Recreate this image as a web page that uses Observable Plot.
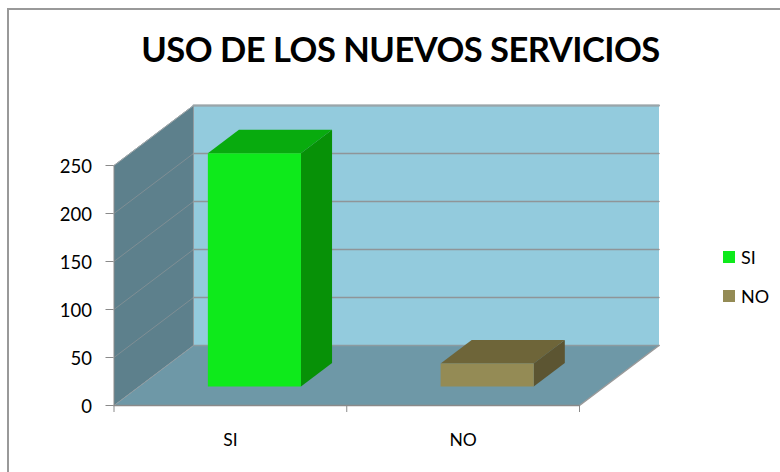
<!DOCTYPE html>
<html>
<head>
<meta charset="utf-8">
<script src="https://cdn.jsdelivr.net/npm/d3@7"></script>
<script src="https://cdn.jsdelivr.net/npm/@observablehq/plot@0.6"></script>
<style>
  html, body { margin: 0; padding: 0; background: #fff; width: 780px; height: 472px; overflow: hidden; }
  #wrap { position: relative; width: 780px; height: 472px; font-family: Lato, sans-serif; overflow: hidden; }
  #frame { position: absolute; left: 7px; top: 8px; width: 800px; height: 500px; border: 2px solid #999; box-sizing: border-box; }
  #title { position: absolute; left: 0; top: 28px; width: 801px; margin: 0; text-align: center; font-size: 34.5px; line-height: 42px; font-weight: 700; color: #000; white-space: nowrap; letter-spacing: -0.5px; }
  #chart { position: absolute; left: 0; top: 0; }
  #chart svg { display: block; background: transparent; }
  .lg { position: absolute; left: 723px; display: flex; align-items: center; font-size: 18px; line-height: 20px; color: #000; }
  .lg i { display: block; width: 12px; height: 12px; margin-right: 6px; }
</style>
</head>
<body>
<div id="wrap">
  <div id="frame"></div>
  <div id="chart"></div>
  <h1 id="title">USO DE LOS NUEVOS SERVICIOS</h1>
</div>
<script>
const categories = ["SI", "NO"];
const values = [243, 24];
const yTicks = [0, 50, 100, 150, 200, 250];
const xEdges = [0, 1, 2];
const frontColors = ["#0eea1b", "#948b55"];
const topColors = ["#08ab0e", "#6e6539"];
const sideColors = ["#079107", "#5c5532"];

const yMax = 250;
const depthX = 79.5 / 232.75;   // x units per unit of depth
const depthY = 60 / 0.96;       // value units per unit of depth
const p = (x, y, z) => ({x: x + z * depthX, y: y + z * depthY});
const face = (pts, fill) => Plot.line(pts, {x: "x", y: "y", fill, stroke: "none"});
const edge = (pts, stroke, strokeWidth = 1) => Plot.line(pts, {x: "x", y: "y", stroke, strokeWidth});

const marks = [
  // back wall, left wall, floor
  face([p(0,0,1), p(2,0,1), p(2,yMax,1), p(0,yMax,1)], "#93cbdd"),
  face([p(0,0,0), p(0,0,1), p(0,yMax,1), p(0,yMax,0)], "#5d808c"),
  face([p(0,0,0), p(2,0,0), p(2,0,1), p(0,0,1)], "#6e98a7"),
  // gridlines
  ...yTicks.slice(1).map(v => edge([p(0,v,1), p(2,v,1)], "#8f9598", 1.5)),
  ...yTicks.slice(1).map(v => edge([p(0,v,0), p(0,v,1)], "#7f8e94", 1)),
  edge([p(0,yMax,1), p(2,yMax,1)], "#9aa5aa", 2),
  edge([p(0,0,1), p(2,0,1)], "#8b9aa0", 1.5),
  edge([p(0,0,1), p(0,yMax,1)], "#8f9a9f", 1),
  edge([p(0,0,0), p(0,0,1)], "#8f9a9f", 1),
  edge([p(0,yMax,0), p(0,yMax,1)], "#a0a8ab", 1),
  edge([p(2,0,0), p(2,0,1)], "#9a9a9a", 1.5),
  // bars
  ...categories.flatMap((c, i) => {
    const x0 = i + 0.295, x1 = i + 0.695, z0 = 0.317, z1 = 0.708, v = values[i];
    return [
      face([p(x0,v,z0), p(x1,v,z0), p(x1,v,z1), p(x0,v,z1)], topColors[i]),
      face([p(x1,0,z0), p(x1,0,z1), p(x1,v,z1), p(x1,v,z0)], sideColors[i]),
      face([p(x0,0,z0), p(x1,0,z0), p(x1,v,z0), p(x0,v,z0)], frontColors[i])
    ];
  }),
  // axes
  Plot.axisY({ticks: yTicks, tickSize: 8, tickFormat: () => "", stroke: "#8a8a8a", label: null}),
  Plot.axisY({ticks: yTicks, tickSize: 0, tickPadding: 22, dy: 2, fill: "#000", fontSize: 18.5, tickFormat: d => String(d), label: null}),
  Plot.axisX({ticks: xEdges, tickSize: 7, tickFormat: () => "", stroke: "#8a8a8a", label: null}),
  Plot.axisX({ticks: categories.map((c, i) => i + 0.5), tickSize: 0, tickPadding: 28, fill: "#000", fontSize: 17.5, tickFormat: d => categories[Math.floor(d)], label: null}),
  Plot.ruleY([0], {stroke: "#8a8a8a", strokeWidth: 1.5}),
  Plot.ruleX([0], {stroke: "#8a8a8a", strokeWidth: 1})
];

const chart = Plot.plot({
  width: 780,
  height: 472,
  marginLeft: 113.5,
  marginRight: 201,
  marginTop: 165,
  marginBottom: 67,
  style: {fontFamily: "Lato, sans-serif", background: "transparent", overflow: "visible"},
  x: {type: "linear", domain: [0, 2]},
  y: {type: "linear", domain: [0, yMax]},
  marks
});
document.getElementById("chart").append(chart);

categories.forEach((c, i) => {
  const d = document.createElement("div");
  d.className = "lg";
  d.style.top = (247 + i * 39) + "px";
  const s = document.createElement("i");
  s.style.background = frontColors[i];
  d.append(s, c);
  document.getElementById("wrap").append(d);
});
</script>
</body>
</html>
